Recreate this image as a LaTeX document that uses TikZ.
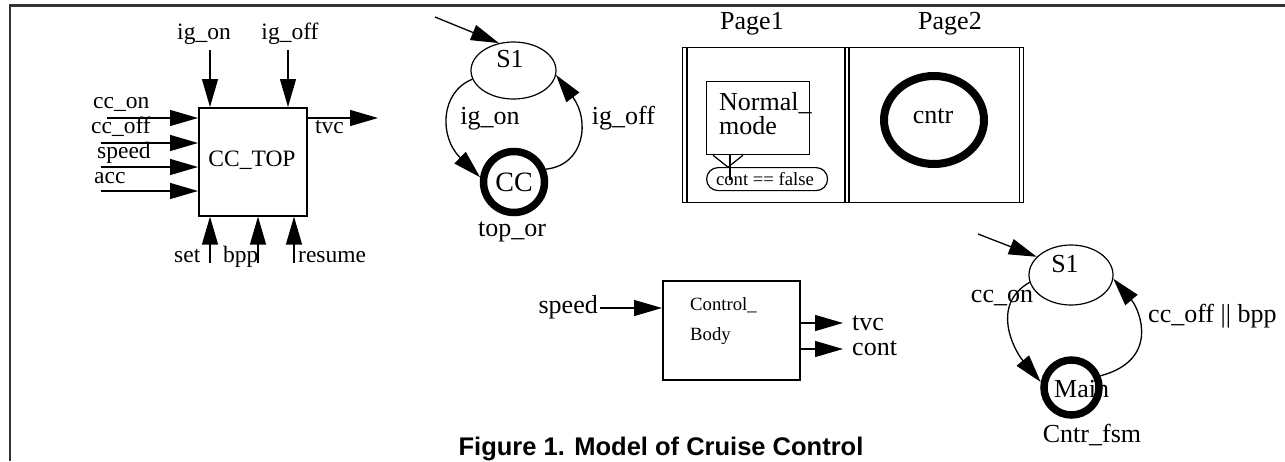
\documentclass[tikz,border=0pt]{standalone}
\usepackage{fontspec}
\setmainfont{Liberation Serif}
\newfontfamily\capfont{Liberation Sans}
\usetikzlibrary{arrows.meta,shapes.geometric}
\definecolor{framegray}{HTML}{333333}
\tikzset{
  lbl/.style={inner sep=0pt, font=\fontsize{26}{30}\selectfont},
  lblS/.style={inner sep=0pt, font=\fontsize{23.5}{28}\selectfont},
  lblT/.style={inner sep=0pt, font=\fontsize{18.7}{22}\selectfont},
  arr/.style={line width=1.3pt, -{Triangle[length=28pt,width=16pt]}},
  thin/.style={line width=1.2pt},
  blk/.style={draw, line width=1.6pt, inner sep=0pt, anchor=north west},
  state/.style={draw, ellipse, line width=1.2pt, inner sep=0pt},
  final/.style={draw, circle, line width=7.5pt, inner sep=0pt},
}
\begin{document}
\begin{tikzpicture}[x=1pt,y=-1pt]
\useasboundingbox (0,0) rectangle (1285,461);
% outer frame
\coordinate (fTL) at (10,5.5);
\coordinate (fTR) at (1285,5.5);
\coordinate (fBL) at (10,461);
\draw[framegray, line width=2.2pt] (fTR) -- (fTL) -- (fBL);

% ---------------- CC_TOP block ----------------
\node[blk, minimum width=108pt, minimum height=108pt] (cctop) at (198,107) {};
\node[lblS] (cctopT) at (252,160) {CC\_TOP};
\node[lblS, anchor=base] (igonL) at (204,39) {ig\_on};
\node[lblS, anchor=base] (igoffL) at (290,39) {ig\_off};
\coordinate (igonS) at (210,50);
\coordinate (igoffS) at (288,50);
\draw[arr] (igonS) -- (igonS |- cctop.north);
\draw[arr] (igoffS) -- (igoffS |- cctop.north);
\node[lblS, anchor=base west] (cconL) at (93,108) {cc\_on};
\node[lblS, anchor=base west] (ccoffL) at (91,133) {cc\_off};
\node[lblS, anchor=base west] (speedL) at (97,158) {speed};
\node[lblS, anchor=base west] (accL) at (94,183) {acc};
\coordinate (ccon0) at (107,118);
\coordinate (ccoff0) at (101,143);
\coordinate (speed0) at (101,167);
\coordinate (acc0) at (101,191);
\draw[arr] (ccon0) -- (ccon0 -| cctop.west);
\draw[arr] (ccoff0) -- (ccoff0 -| cctop.west);
\draw[arr] (speed0) -- (speed0 -| cctop.west);
\draw[arr] (acc0) -- (acc0 -| cctop.west);
\coordinate (tvc1) at (378,118);
\draw[arr] (tvc1 -| cctop.east) -- (tvc1);
\node[lblS, anchor=base west] (tvcL) at (315,133) {tvc};
\coordinate (set0) at (210,263);
\coordinate (bpp0) at (258,263);
\coordinate (res0) at (294,263);
\draw[arr] (set0) -- (set0 |- cctop.south);
\draw[arr] (bpp0) -- (bpp0 |- cctop.south);
\draw[arr] (res0) -- (res0 |- cctop.south);
\node[lblS, anchor=base west] (setL) at (174,262) {set};
\node[lblS, anchor=base west] (bppL) at (223,262) {bpp};
\node[lblS, anchor=base west] (resL) at (298,262) {resume};

% ---------------- top_or ----------------
\node[state, minimum width=85pt, minimum height=57pt] (s1a) at (513.5,70.5) {};
\node[lbl, anchor=base] (s1aT) at (510,67) {S1};
\node[final, minimum size=61pt] (cc) at (514,182) {};
\node[inner sep=0pt, font=\fontsize{28}{30}\selectfont] (ccT) at (514,182) {CC};
\coordinate (init1) at (435,17);
\draw[arr] (init1) -- (s1a.118);
\draw[arr] (s1a.192) .. controls (440,92) and (439,137) .. (cc.172);
\draw[arr] (cc.22) .. controls (585,165) and (590,120) .. (s1a.-6);
\node[lbl, anchor=base] (igonT) at (490,124) {ig\_on};
\node[lbl, anchor=base] (igoffT) at (623.5,124) {ig\_off};
\node[lbl, anchor=base] (toporT) at (512,236) {top\_or};

% ---------------- Pages ----------------
\node[lbl, anchor=base] (p1L) at (752,29) {Page1};
\node[lbl, anchor=base] (p2L) at (950,29) {Page2};
\node[draw, thin, inner sep=0pt, anchor=north west, minimum width=341pt, minimum height=155pt] (pages) at (682,47) {};
\draw[thin] ([xshift=5pt]pages.north west) -- ([xshift=5pt]pages.south west);
\draw[thin] ([xshift=163pt]pages.north west) -- ([xshift=163pt]pages.south west);
\draw[thin] ([xshift=167pt]pages.north west) -- ([xshift=167pt]pages.south west);
\draw[thin] ([xshift=-5pt]pages.north east) -- ([xshift=-5pt]pages.south east);
\node[draw, thin, inner sep=0pt, anchor=north west, minimum width=103pt, minimum height=73pt] (nm) at (706,81) {};
\node[lbl, anchor=base west] (nmT1) at (719,110) {Normal\_};
\node[lbl, anchor=base west] (nmT2) at (719,134) {mode};
\draw[thin] ([xshift=7pt]nm.south west) -- ([xshift=22pt,yshift=-12pt]nm.south west) -- ([xshift=37pt]nm.south west);
\node[draw, thin, rounded corners=11.5pt, inner sep=0pt, anchor=north west, minimum width=121pt, minimum height=23pt] (pill) at (706,167) {};
\node[lblT, anchor=base] (pillT) at (765,185) {cont == false};
\coordinate (tri) at (730,154);
\draw[thin] (tri) -- (730,180);
\node[draw, ellipse, line width=8pt, inner sep=0pt, minimum width=100pt, minimum height=88pt] (cntr) at (934,120) {};
\node[lbl, anchor=base] (cntrT) at (933,123) {cntr};

% ---------------- Control_Body ----------------
\node[blk, minimum width=137pt, minimum height=99pt] (cb) at (662,280) {};
\node[lblT, anchor=base west] (cbT1) at (690,310) {Control\_};
\node[lblT, anchor=base west] (cbT2) at (690,340) {Body};
\node[lbl, anchor=base east] (cbspeed) at (598,313) {speed};
\coordinate (cbin) at (600,308);
\draw[arr] (cbin) -- (cbin -| cb.west);
\coordinate (cbtvc) at (843,323);
\coordinate (cbcont) at (843,349);
\draw[arr] (cbtvc -| cb.east) -- (cbtvc);
\draw[arr] (cbcont -| cb.east) -- (cbcont);
\node[lbl, anchor=base west] (cbtvcL) at (852,330) {tvc};
\node[lbl, anchor=base west] (cbcontL) at (852,355) {cont};

% ---------------- Cntr_fsm ----------------
\node[state, minimum width=84pt, minimum height=60pt] (s1b) at (1071,275) {};
\node[lbl, anchor=base] (s1bT) at (1065,272) {S1};
\node[final, minimum size=55pt] (main) at (1071.5,387.5) {};
\node[lbl, anchor=base west] (mainT) at (1054,397) {Main};
\coordinate (init2) at (978,234);
\draw[arr] (init2) -- (s1b.152);
\draw[arr] (s1b.190) .. controls (990,305) and (1014,350) .. (main.170);
\draw[arr] (main.22) .. controls (1160,360) and (1140,310) .. (s1b.-5);
\node[lbl, anchor=base] (cconT) at (1002,302) {cc\_on};
\node[lbl, anchor=base west] (ccoffT) at (1148,322) {cc\_off || bpp};
\node[lbl, anchor=base] (cntrfsmT) at (1092,442) {Cntr\_fsm};

% caption
\node[inner sep=0pt, anchor=base, font=\capfont\bfseries\fontsize{25.5}{30}\selectfont] (cap) at (661,455) {Figure 1. Model of Cruise Control};
\end{tikzpicture}
\end{document}
